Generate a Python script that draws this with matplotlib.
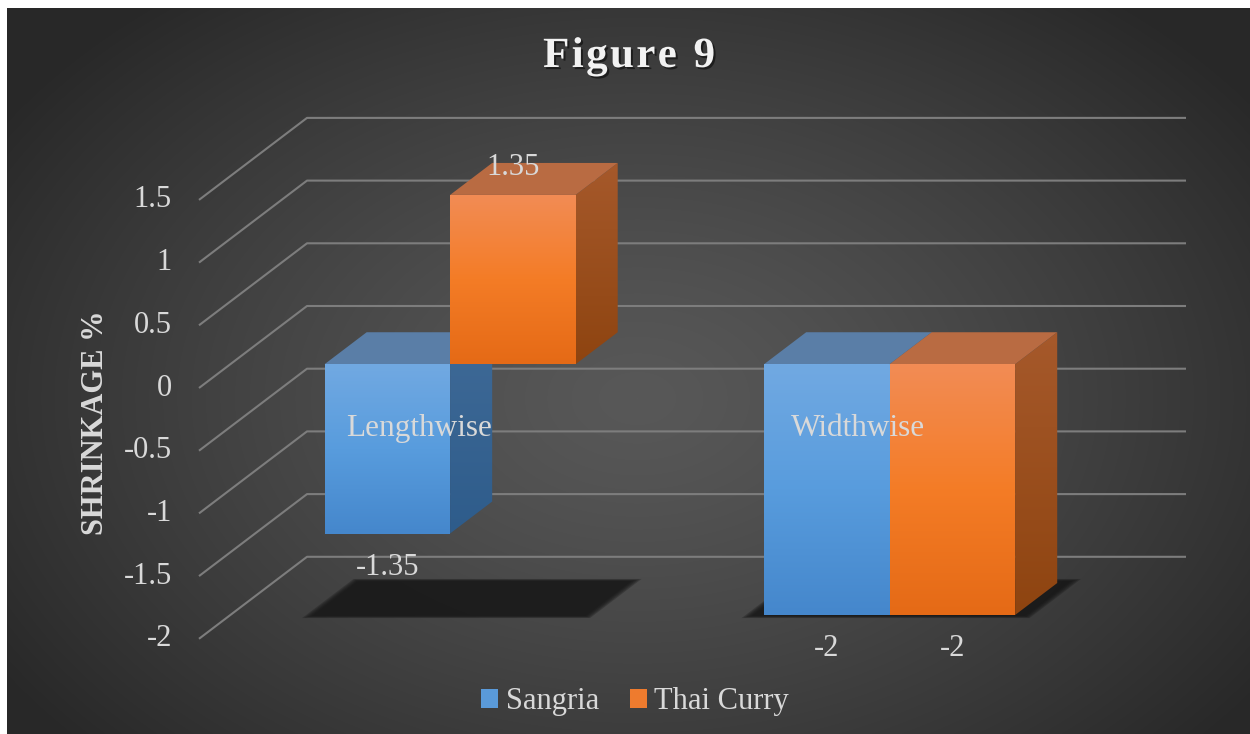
import numpy as np
import matplotlib
matplotlib.use('Agg')
import matplotlib.pyplot as plt
from matplotlib.patches import Polygon, Patch
from matplotlib import patheffects
from matplotlib.colors import to_rgb

# shrinkage values per category
categories = ['Lengthwise', 'Widthwise']
series_names = ['Sangria', 'Thai Curry']
sangria = [-1.35, -2]
thai_curry = [1.35, -2]
y_ticks = [1.5, 1, 0.5, 0, -0.5, -1, -1.5, -2]

plt.rcParams['font.family'] = 'Liberation Serif'
TXT = '#d9d9d9'

W, H = 1250, 734
fig = plt.figure(figsize=(W / 100, H / 100), dpi=100, facecolor='white')

# dark radial background panel
bg = fig.add_axes([7 / W, 0, 1 - 7 / W, 1 - 8 / H])
yy, xx = np.mgrid[0:726, 0:1243]
r = np.sqrt(((xx - 630) / 760) ** 2 + ((yy - 390) / 520) ** 2)
t = np.clip(r, 0, 1) ** 1.3
shade_val = (88 - 48 * t) / 255
bg.imshow(np.dstack([shade_val] * 3), aspect='auto', interpolation='bilinear')
bg.axis('off')

# main plot: x in category units, y in value units, oblique depth offset
ax = fig.add_axes([0, 0, 1, 1])
ax.patch.set_visible(False)
ax.axis('off')
PX_X, PX_Y = 439.5, 125.4      # pixels per category / per value unit
X0, Y0 = 199, 388              # front-left corner, value 0
DX, DY = 108 / PX_X, 82 / PX_Y  # full depth of the box
D0, D1 = 0.29, 0.68            # bar depth range
BAR_W = 0.2856


def proj(x, v, d):
    return (x + d * DX, v + d * DY)


def shade(verts, stops, z):
    poly = Polygon(verts, closed=True, facecolor='none', edgecolor='none')
    ax.add_patch(poly)
    xs, ys = zip(*verts)
    cols = np.array([to_rgb(s) for s in stops])
    pos = np.linspace(0, 1, len(stops))
    tt = np.linspace(0, 1, 200)
    grad = np.stack([np.interp(tt, pos, cols[:, i]) for i in range(3)], axis=-1)[:, None, :]
    im = ax.imshow(grad, extent=(min(xs), max(xs), min(ys), max(ys)), origin='upper',
                   aspect='auto', zorder=z, interpolation='bilinear')
    im.set_clip_path(poly)


# gridlines on side and back walls
for v in y_ticks:
    pts = [proj(0, v, 0), proj(0, v, 1), proj(len(categories), v, 1)]
    ax.plot(*zip(*pts), color='#7d7d7d', lw=1.5, zorder=1, solid_capstyle='butt')
    ax.text(-0.062, v, f'{v:g}', ha='right', va='center', fontsize=22, color=TXT)

floor = min(y_ticks)

# soft floor shadows under each group
for c in range(len(categories)):
    xl = c + 0.5 - BAR_W - 0.034
    xr = c + 0.5 + BAR_W + 0.034
    for k in range(5):
        g = 0.004 * (2 - k)
        dd = g * 1.6
        verts = [proj(xl - g, floor, D0 - 0.024 - dd), proj(xr + g, floor, D0 - 0.024 - dd),
                 proj(xr + g, floor, D1 + 0.037 + dd), proj(xl - g, floor, D1 + 0.037 + dd)]
        ax.add_patch(Polygon(verts, closed=True, facecolor='#161616', edgecolor='none',
                             alpha=0.3, zorder=2))

styles = {
    'Sangria': dict(front=['#71a9e2', '#589cdd', '#4587cc'], top='#5a7ea7',
                    side=['#3f6a97', '#2e5c8b'], legend='#5a9ad9'),
    'Thai Curry': dict(front=['#f28c55', '#f47c26', '#e56a16'], top='#b96b42',
                       side=['#a6592b', '#8e4410'], legend='#ee7b2e'),
}

z = 3
for c in range(len(categories)):
    for i, (name, vals) in enumerate(zip(series_names, [sangria, thai_curry])):
        v = vals[c]
        st = styles[name]
        xl = c + 0.5 - BAR_W + i * BAR_W
        xr = xl + BAR_W
        top, bot = max(v, 0), min(v, 0)
        side = [proj(xr, bot, D0), proj(xr, top, D0), proj(xr, top, D1), proj(xr, bot, D1)]
        shade(side, st['side'], z)
        topf = [proj(xl, top, D0), proj(xr, top, D0), proj(xr, top, D1), proj(xl, top, D1)]
        ax.add_patch(Polygon(topf, closed=True, facecolor=st['top'], edgecolor='none', zorder=z))
        front = [proj(xl, bot, D0), proj(xr, bot, D0), proj(xr, top, D0), proj(xl, top, D0)]
        shade(front, st['front'], z + 0.5)
        z += 1
        # value label
        lx, ly = proj((xl + xr) / 2, v + (0.22 if v > 0 else -0.27), D0)
        ax.text(lx, ly, f'{v:g}', ha='center', va='center', fontsize=22, color=TXT, zorder=20)

# category labels along the zero line
for c, cat in enumerate(categories):
    ax.text(c + 0.5, -0.32, cat, ha='center', va='center', fontsize=22.5, color=TXT, zorder=20)

ax.set_xlim(-X0 / PX_X, (W - X0) / PX_X)
ax.set_ylim((Y0 - H) / PX_Y, Y0 / PX_Y)

# letter-spaced bold title
title = 'Figure 9'
tkw = dict(fontsize=31, weight='bold', color='#f2f2f2', va='baseline', ha='left',
           path_effects=[patheffects.withSimplePatchShadow(offset=(1.5, -1.5),
                                                           shadow_rgbFace='black', alpha=0.5)])
renderer = fig.canvas.get_renderer()
widths = []
for ch in title:
    tmp = fig.text(0, 0, ch if ch != ' ' else 'n', **tkw)
    w = tmp.get_window_extent(renderer).width
    widths.append(w if ch != ' ' else w * 0.5)
    tmp.remove()
spacing = 2.4
total = sum(widths) + spacing * (len(title) - 1)
xpos = 629 - total / 2
for ch, w in zip(title, widths):
    if ch != ' ':
        fig.text(xpos / W, 1 - 67 / H, ch, **tkw)
    xpos += w + spacing

fig.text(96 / W, 1 - 423 / H, 'SHRINKAGE %', rotation=90, ha='center', va='center',
         fontsize=22, weight='bold', color=TXT)

handles = [Patch(facecolor=styles[n]['legend'], edgecolor='none') for n in series_names]
fig.legend(handles, series_names, loc='center', bbox_to_anchor=(635 / W, 1 - 702 / H), ncol=2,
           frameon=False, prop={'family': 'Liberation Serif', 'size': 22}, labelcolor=TXT,
           handlelength=0.56, handleheight=0.56, handletextpad=0.25, columnspacing=1.0)

fig.savefig('out.png', dpi=100, facecolor='white')
